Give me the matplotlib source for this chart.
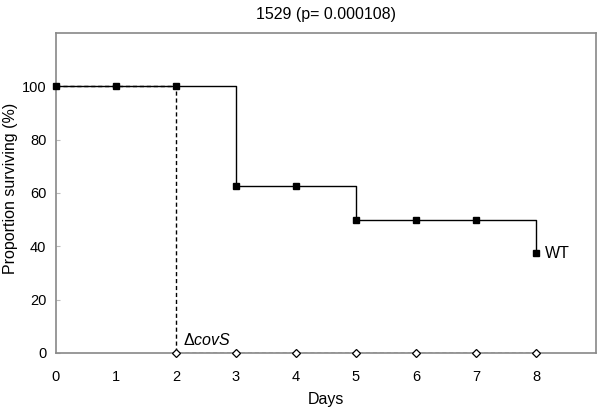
import matplotlib
matplotlib.use('Agg')
import matplotlib.pyplot as plt

plt.rcParams['font.family'] = ['Liberation Sans', 'DejaVu Sans']
plt.rcParams['mathtext.fontset'] = 'custom'
plt.rcParams['mathtext.rm'] = 'Liberation Sans'
plt.rcParams['mathtext.it'] = 'Liberation Sans:italic'

days = [0, 1, 2, 3, 4, 5, 6, 7, 8]
wt_surv = [100, 100, 100, 62.5, 62.5, 50, 50, 50, 37.5]
covs_surv = [100, 100, 0, 0, 0, 0, 0, 0, 0]
y_ticks = [0, 20, 40, 60, 80, 100]

fig = plt.figure(figsize=(6, 4.13), dpi=100)
ax = fig.add_axes([56 / 600, 1 - 353 / 413, 540 / 600, 320 / 413])

# mutant: dashed step, open diamonds
ax.plot(days, covs_surv, drawstyle='steps-post', color='black', lw=1,
        ls=(0, (3, 2)), zorder=2)
ax.plot(days[2:], covs_surv[2:], ls='none', marker='D', ms=4,
        mfc='white', mec='black', mew=0.9, zorder=4, clip_on=False)

# wild type: solid step, filled squares
ax.plot(days, wt_surv, drawstyle='steps-post', color='black', lw=1, zorder=3)
ax.plot(days, wt_surv, ls='none', marker='s', ms=5, color='black',
        zorder=5, clip_on=False)

ax.set_xlim(0, 9)
ax.set_ylim(0, 120)
ax.set_xticks(days)
ax.set_yticks(y_ticks)
ax.tick_params(axis='x', length=0, pad=12, labelsize=10.5)
ax.tick_params(axis='y', length=3, direction='in', color='#bbbbbb', pad=7,
               labelsize=10.5)
for s in ax.spines.values():
    s.set_color('#888888')
    s.set_linewidth(1.2)

ax.text(8.15, 37.5, 'WT', fontsize=11.5, va='center', ha='left')
ax.text(2.12, 5, r'$\Delta\mathit{covS}$', fontsize=11.5, va='center', ha='left')

ax.set_xlabel('Days', fontsize=11.5, labelpad=6)
ax.set_ylabel('Proportion surviving (%)', fontsize=11.5)
ax.yaxis.set_label_coords(-0.07, 0.515)
ax.set_title('1529 (p= 0.000108)', fontsize=11.5, pad=10)

fig.savefig('out.png', dpi=100)
